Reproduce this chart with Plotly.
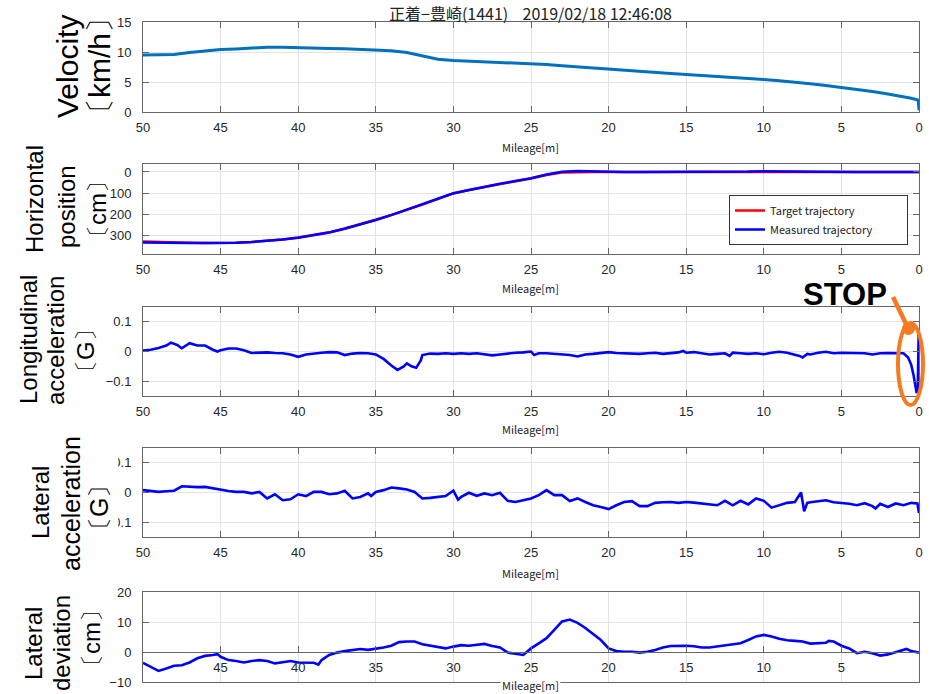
import plotly.graph_objects as go

W, H = 929, 694

# ---- data -----------------------------------------------------------------
vel_m = [50, 49, 48, 47, 46, 45, 44, 43, 42, 41, 40, 39, 38, 37, 36, 35, 34, 33, 32, 31,
         30, 29, 28, 27, 26, 25, 24, 23, 22, 21, 20, 19, 18, 17, 16, 15, 14, 13, 12, 11,
         10, 9, 8, 7, 6, 5, 4, 3, 2, 1, 0.5, 0.05, 0]
velocity = [9.5, 9.5, 9.6, 9.9, 10.2, 10.4, 10.5, 10.7, 10.8, 10.8, 10.7, 10.7, 10.6, 10.55,
            10.4, 10.3, 10.2, 9.9, 9.4, 8.8, 8.6, 8.5, 8.4, 8.3, 8.2, 8.1, 7.9, 7.7, 7.5, 7.3,
            7.1, 6.95, 6.8, 6.6, 6.4, 6.25, 6.1, 5.95, 5.8, 5.6, 5.4, 5.2, 5.0, 4.7, 4.4, 4.1,
            3.8, 3.4, 3.0, 2.6, 2.3, 2.0, 0.3]

pos_m = [50, 49, 48, 47, 46, 45, 44, 43, 42, 41, 40, 39, 38, 37, 36, 35, 34, 33, 32, 31,
         30, 29, 28, 27, 26, 25, 24, 23, 22, 21, 20, 19, 18, 17, 16, 15, 14, 13, 12, 11,
         10, 9, 8, 7, 6, 5, 4, 3, 2, 1, 0]
pos_target = [330, 333, 335, 337, 338, 338, 336, 333, 328, 321, 312, 301, 287, 269, 249, 227,
              204, 180, 155, 128, 102, 86, 71, 57, 44, 31, 14, 3, 0, 0, 0, 0, 0, 0, 0, 0,
              0, 0, 0, -1, -2, -1, 0, 0, 0, 0, 0, 0, 0, 0, 0]
pos_measured = [335, 337, 338, 338, 338, 338, 337, 333, 328, 321, 313, 302, 288, 270, 250, 228,
                205, 180, 155, 127, 101, 85, 70, 56, 43, 30, 12, -1, -5, -3, 0, 0, 0, 0, -1, -1,
                -1, -1, -2, -2, -4, -3, -1, 0, -1, -1, 0, 0, 0, 0, 0]

lon_m = [50, 49.5, 49, 48.5, 48.2, 47.8, 47.5, 47, 46.5, 46, 45.5, 45.2, 45, 44.5, 44, 43.5,
         43, 42.5, 42, 41.5, 41, 40.5, 40, 39.5, 39, 38.5, 38, 37.5, 37, 36.5, 36, 35.5, 35,
         34.5, 34, 33.6, 33.2, 33, 32.7, 32.4, 32.1, 32, 31.5, 31, 30.5, 30, 29.5, 29, 28.5,
         28, 27.5, 27, 26.5, 26, 25.5, 25, 24.8, 24.5, 24, 23.5, 23, 22.5, 22, 21.5, 21, 20.5,
         20, 19.5, 19, 18.5, 18, 17.5, 17, 16.5, 16, 15.5, 15.2, 15, 14.5, 14, 13.5, 13, 12.5,
         12.2, 12, 11.5, 11, 10.5, 10, 9.5, 9, 8.5, 8, 7.7, 7.5, 7.2, 7, 6.5, 6, 5.5, 5, 4.5,
         4, 3.5, 3, 2.5, 2, 1.5, 1, 0.7, 0.5, 0.35, 0.25, 0.15, 0.08, 0.04, 0.02, 0]
lon_acc = [0.003, 0.006, 0.012, 0.02, 0.03, 0.022, 0.011, 0.028, 0.02, 0.02, 0.006, 0.0, 0.004,
           0.01, 0.01, 0.004, -0.005, -0.004, -0.003, -0.005, -0.006, -0.01, -0.018, -0.01,
           -0.006, -0.004, -0.002, -0.003, -0.012, -0.007, -0.005, -0.006, -0.01, -0.025,
           -0.047, -0.062, -0.05, -0.04, -0.05, -0.055, -0.03, -0.012, -0.007, -0.008, -0.006,
           -0.008, -0.006, -0.008, -0.006, -0.01, -0.013, -0.01, -0.006, -0.004, -0.003, 0.0,
           -0.012, -0.006, -0.006, -0.008, -0.01, -0.012, -0.017, -0.01, -0.008, -0.004,
           -0.002, -0.005, -0.006, -0.007, -0.008, -0.006, -0.004, -0.008, -0.006, -0.003,
           0.002, -0.004, -0.002, -0.005, -0.01, -0.008, -0.006, -0.015, -0.004, -0.006,
           -0.008, -0.006, -0.009, -0.004, -0.001, -0.004, -0.01, -0.015, -0.02, -0.008,
           -0.01, -0.004, -0.001, -0.006, -0.004, -0.005, -0.004, -0.006, -0.01, -0.006,
           -0.005, -0.005, -0.006, -0.02, -0.045, -0.08, -0.115, -0.14, -0.13, -0.03, 0.065,
           -0.03]

lat_m = [50, 49.5, 49, 48.5, 48, 47.5, 47, 46.5, 46, 45.5, 45, 44.5, 44, 43.5, 43, 42.5, 42,
         41.5, 41, 40.5, 40, 39.5, 39, 38.5, 38, 37.5, 37, 36.5, 36, 35.5, 35.3, 35, 34.5, 34,
         33.5, 33, 32.5, 32, 31.5, 31, 30.5, 30, 29.7, 29.5, 29, 28.5, 28, 27.5, 27, 26.5, 26,
         25.5, 25, 24.5, 24, 23.5, 23, 22.5, 22, 21.5, 21, 20.5, 20, 19.5, 19, 18.5, 18, 17.5,
         17, 16.5, 16, 15.5, 15, 14.5, 14, 13.5, 13, 12.5, 12, 11.5, 11, 10.5, 10, 9.5, 9,
         8.5, 8, 7.7, 7.6, 7.4, 7.2, 7, 6.5, 6, 5.5, 5, 4.5, 4, 3.5, 3, 2.8, 2.5, 2, 1.5, 1,
         0.5, 0.1, 0]
lat_acc = [0.008, 0.005, 0.002, 0.004, 0.006, 0.021, 0.019, 0.018, 0.019, 0.014, 0.008, 0.005,
           0.002, 0.002, -0.003, 0.002, -0.02, -0.006, -0.026, -0.023, -0.006, -0.012, 0.002,
           0.002, -0.006, -0.003, 0.006, -0.02, -0.015, -0.003, -0.012, 0.002, 0.008, 0.017,
           0.014, 0.01, 0.002, -0.02, -0.018, -0.015, -0.012, 0.006, -0.024, -0.015, -0.001,
           -0.011, -0.003, -0.009, -0.001, -0.028, -0.032, -0.026, -0.02, -0.009, 0.008,
           -0.009, -0.009, -0.029, -0.02, -0.032, -0.043, -0.049, -0.056, -0.043, -0.032,
           -0.029, -0.046, -0.046, -0.035, -0.033, -0.032, -0.035, -0.032, -0.034, -0.037,
           -0.04, -0.043, -0.028, -0.043, -0.028, -0.04, -0.02, -0.028, -0.051, -0.043, -0.035,
           -0.032, -0.006, 0.0, -0.063, -0.035, -0.033, -0.03, -0.026, -0.033, -0.035, -0.038,
           -0.043, -0.036, -0.046, -0.054, -0.038, -0.049, -0.037, -0.043, -0.035, -0.037,
           -0.069]

dev_m = [50, 49.5, 49, 48.5, 48, 47.5, 47, 46.5, 46, 45.5, 45.2, 45, 44.5, 44, 43.5, 43, 42.5,
         42, 41.5, 41, 40.5, 40, 39.5, 39, 38.7, 38.5, 38, 37.5, 37, 36.5, 36, 35.5, 35, 34.5,
         34, 33.5, 33, 32.5, 32, 31.5, 31, 30.5, 30, 29.5, 29, 28.5, 28, 27.5, 27, 26.5, 26,
         25.5, 25.2, 25, 24.5, 24, 23.5, 23, 22.5, 22, 21.5, 21, 20.5, 20, 19.5, 19, 18.5, 18,
         17.5, 17, 16.5, 16, 15.5, 15, 14.5, 14, 13.5, 13, 12.5, 12, 11.5, 11, 10.5, 10, 9.5,
         9, 8.5, 8, 7.5, 7, 6.5, 6, 5.8, 5.5, 5, 4.5, 4, 3.5, 3, 2.5, 2, 1.5, 1, 0.8, 0.5, 0]
lat_dev = [-3.6, -4.9, -6.3, -5.5, -4.6, -4.4, -3.5, -2.1, -1.3, -1.0, -0.7, -1.6, -2.7, -3.0,
           -3.5, -3.0, -2.7, -3.0, -3.8, -3.4, -3.0, -3.5, -3.5, -3.6, -4.2, -2.7, -1.0, -0.2,
           0.3, 0.7, 1.0, 0.7, 1.0, 1.5, 2.1, 3.3, 3.5, 3.5, 2.6, 2.1, 1.5, 1.2, 1.8, 2.3, 2.1,
           2.4, 2.7, 2.0, 1.5, -0.2, -0.7, -1.0, 0.3, 1.2, 2.9, 4.6, 7.4, 10.2, 10.8, 9.7, 8.0,
           6.0, 4.0, 1.2, 0.3, 0.1, 0.1, -0.2, 0.1, 0.7, 1.5, 2.0, 2.1, 2.1, 1.9, 1.5, 1.5, 1.8,
           2.1, 2.4, 2.9, 4.0, 5.2, 5.7, 5.2, 4.4, 3.9, 3.7, 3.5, 2.8, 2.9, 3.1, 3.7, 3.5, 2.1,
           1.2, -0.4, 0.1, -0.4, -1.2, -0.8, -0.1, 0.7, 1.0, 0.3, -0.2]

for a, b in [(vel_m, velocity), (pos_m, pos_target), (pos_m, pos_measured),
             (lon_m, lon_acc), (lat_m, lat_acc), (dev_m, lat_dev)]:
    assert len(a) == len(b), (len(a), len(b))

mileage_ticks = [50, 45, 40, 35, 30, 25, 20, 15, 10, 5, 0]

# ---- layout helpers (pixel -> paper) --------------------------------------
def px(x):
    return x / W

def py(y):
    return 1 - y / H

X0, X1 = 143, 919
panels = [(22, 112), (164, 254), (307, 396), (448, 537), (592, 682)]

AX_COLOR = "#666666"
GRID = "#e3e3e3"
TICK_FONT = dict(family="Liberation Sans, Arial, sans-serif", size=13, color="#262626")
LABEL_FONT = "Liberation Sans, Arial, sans-serif"
JP_FONT = "Noto Sans CJK JP, sans-serif"

fig = go.Figure()

BLUE = "#0000FF"
PAD = "\u00a0" * 12  # widens the legend box
fig.add_trace(go.Scatter(x=vel_m, y=velocity, mode="lines", line=dict(color="#0072BD", width=3),
                         xaxis="x", yaxis="y", showlegend=False))
fig.add_trace(go.Scatter(x=pos_m, y=pos_target, mode="lines", line=dict(color="#FF0000", width=2.5),
                         xaxis="x2", yaxis="y2", name="Target trajectory" + PAD))
fig.add_trace(go.Scatter(x=pos_m, y=pos_measured, mode="lines", line=dict(color=BLUE, width=2.5),
                         xaxis="x2", yaxis="y2", name="Measured trajectory" + PAD))
fig.add_trace(go.Scatter(x=lon_m, y=lon_acc, mode="lines", line=dict(color=BLUE, width=2.6),
                         xaxis="x3", yaxis="y3", showlegend=False))
fig.add_trace(go.Scatter(x=lat_m, y=lat_acc, mode="lines", line=dict(color=BLUE, width=2.6),
                         xaxis="x4", yaxis="y4", showlegend=False))
fig.add_trace(go.Scatter(x=dev_m, y=lat_dev, mode="lines", line=dict(color=BLUE, width=2.6),
                         xaxis="x5", yaxis="y5", showlegend=False))

y_specs = [
    dict(range=[0, 15], tickvals=[0, 5, 10, 15]),
    dict(range=[390, -38], tickvals=[0, 100, 200, 300]),
    dict(range=[-0.15, 0.15], tickvals=[-0.1, 0, 0.1], ticktext=["\u22120.1", "0", "0.1"]),
    dict(range=[-0.15, 0.15], tickvals=[-0.1, 0, 0.1], ticktext=["\u22120.1", "0", "0.1"]),
    dict(range=[-10, 20], tickvals=[-10, 0, 10, 20], ticktext=["\u221210", "0", "10", "20"]),
]

layout = dict(
    width=W, height=H, margin=dict(l=0, r=0, t=0, b=0, autoexpand=False),
    paper_bgcolor="white", plot_bgcolor="white",
    legend=dict(x=px(729), y=py(195), xanchor="left", yanchor="top",
                bgcolor="white", bordercolor="#333333", borderwidth=1,
                font=dict(family=JP_FONT, size=11, color="#222222"),
                tracegroupgap=0),
)

for i, (top, bot) in enumerate(panels, start=1):
    sfx = "" if i == 1 else str(i)
    last = i == 5
    layout["xaxis" + sfx] = dict(
        domain=[px(X0), px(X1)], anchor="y" + sfx, range=[50, 0], automargin=False,
        tickvals=mileage_ticks, showticklabels=not last,
        ticks="" if last else "inside", ticklen=6, tickcolor=AX_COLOR,
        showline=True, linecolor=AX_COLOR, linewidth=1,
        mirror=True if last else "ticks",
        showgrid=True, gridcolor=GRID, gridwidth=1, zeroline=False,
        tickfont=TICK_FONT, ticklabelstandoff=3,
    )
    ys = y_specs[i - 1]
    layout["yaxis" + sfx] = dict(
        domain=[py(bot), py(top)], anchor="x" + sfx, automargin=False,
        ticks="inside", ticklen=6, tickcolor=AX_COLOR,
        showline=True, linecolor=AX_COLOR, linewidth=1, mirror="ticks",
        showgrid=True, gridcolor=GRID, gridwidth=1, zeroline=False,
        tickfont=TICK_FONT, ticklabelstandoff=8, **ys,
    )

# mileage axis crossing the lateral-deviation panel at zero
layout["xaxis6"] = dict(
    overlaying="x5", anchor="free", position=py(652), domain=[px(X0), px(X1)],
    range=[50, 0], tickvals=[45, 40, 35, 30, 25, 20, 15, 10, 5], automargin=False,
    ticks="inside", ticklen=6, tickcolor=AX_COLOR,
    showline=True, linecolor=AX_COLOR, linewidth=1, showgrid=False, zeroline=False,
    tickfont=TICK_FONT, ticklabelstandoff=3,
)
fig.add_trace(go.Scatter(x=[], y=[], xaxis="x6", yaxis="y5", showlegend=False))

fig.update_layout(**layout)

ORANGE = "#F47B20"
shapes = [
    # white patch where the lateral-acceleration label overlaps its tick labels
    dict(type="rect", xref="paper", yref="paper", x0=px(84), x1=px(118), y0=py(530), y1=py(455),
         fillcolor="white", line=dict(width=0), layer="above"),
    # STOP marker: pointer line, dot and ellipse around the stop point
    dict(type="line", xref="paper", yref="paper", x0=px(893), y0=py(297), x1=px(908), y1=py(328),
         line=dict(color=ORANGE, width=4.5), layer="above"),
    dict(type="circle", xref="paper", yref="paper", x0=px(902), x1=px(915), y0=py(335), y1=py(322),
         fillcolor=ORANGE, line=dict(color=ORANGE, width=0), layer="above"),
    dict(type="circle", xref="paper", yref="paper", x0=px(898), x1=px(923), y0=py(405), y1=py(323),
         line=dict(color=ORANGE, width=4), fillcolor="rgba(0,0,0,0)", layer="above"),
]
fig.update_layout(shapes=shapes)

ann = []
# title
ann.append(dict(text="正着\u2212豊崎(1441)" + "\u00a0" * 4 + "2019/02/18 12:46:08",
                x=px(530), y=py(13), xref="paper", yref="paper", showarrow=False,
                xanchor="center", yanchor="middle",
                font=dict(family=JP_FONT, size=16, color="#222222")))
# x-axis labels
for i, yy in enumerate([147, 288, 429, 573, 685]):
    a = dict(text="Mileage[m]", x=px(530), y=py(yy), xref="paper", yref="paper",
             showarrow=False, xanchor="center", yanchor="middle",
             font=dict(family=JP_FONT, size=11, color="#222222"))
    if i == 4:
        a.update(bgcolor="white", borderpad=1)
    ann.append(a)

# y-axis labels: one annotation per line (text, x centre, y centre, size)
ylabels = [
    ("Velocity", 67, 67, 30), ("〔km/h〕", 99, 66, 30),
    ("Horizontal", 34, 199, 24), ("position", 66, 207, 24), ("〔cm〕", 97, 209, 24),
    ("Longitudinal", 29, 340, 24), ("acceleration", 55, 341, 24), ("〔G〕", 85, 351, 24),
    ("Lateral", 41, 503, 24), ("acceleration", 71, 504, 25), ("〔G〕", 99, 508, 25),
    ("Lateral", 33, 644, 24), ("deviation", 61, 643, 24), ("〔cm〕", 91, 638, 24),
]
for text, xx, yy, size in ylabels:
    ann.append(dict(text=text, x=px(xx), y=py(yy), xref="paper", yref="paper",
                    showarrow=False, textangle=-90, xanchor="center", yanchor="middle",
                    font=dict(family=LABEL_FONT, size=size, color="black")))

ann.append(dict(text="<b>STOP</b>", x=px(845), y=py(294), xref="paper", yref="paper",
                showarrow=False, xanchor="center", yanchor="middle",
                font=dict(family=LABEL_FONT, size=31, color="black")))
fig.update_layout(annotations=ann)

fig.write_html("out.html")
